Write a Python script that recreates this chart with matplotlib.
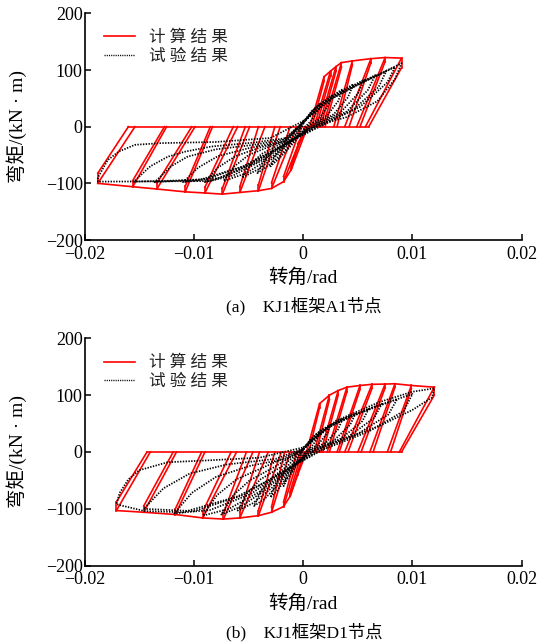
import matplotlib
matplotlib.use("Agg")
import matplotlib.pyplot as plt

plt.rcParams['font.family'] = ['Liberation Serif', 'Noto Sans CJK SC']
plt.rcParams['axes.unicode_minus'] = True

# ---- panel (a): calculated loops (peaks, second-cycle peaks, zero crossings)
a_neg_x = [-0.0188, -0.0156, -0.0134, -0.0108, -0.0090, -0.0074, -0.0058, -0.0041, -0.0029, -0.0018, -0.0011, -0.0005]
a_neg_m1 = [-100, -106, -110, -115, -117, -119, -116, -113, -109, -97, -76, -35]
a_neg_m2 = [-82, -95, -100, -105, -107, -109, -106, -103, -99, -88, -68, -30]
a_neg_z1 = [-0.0154, -0.0125, -0.0099, -0.0083, -0.0060, -0.0049, -0.0035, -0.0021, -0.0006, 0.0002, 0.0004, 0.0005]
a_neg_z2 = [-0.0160, -0.0127, -0.0102, -0.0085, -0.0064, -0.0053, -0.0041, -0.0026, -0.0012, -0.0002, 0.0002, 0.0004]
a_pos_x = [0.0019, 0.0025, 0.0030, 0.0035, 0.0045, 0.0062, 0.0075, 0.0090]
a_pos_m1 = [88, 98, 106, 113, 116, 120, 122, 121]
a_pos_m2 = [80, 90, 98, 105, 109, 113, 115, 104]
a_pos_z1 = [0.0006, 0.0010, 0.0014, 0.0018, 0.0028, 0.0038, 0.0049, 0.0057]
a_pos_z2 = [0.0008, 0.0012, 0.0016, 0.0020, 0.0031, 0.0042, 0.0052, 0.0060]

# ---- panel (a): test loops, one list per cycle
a_test_x = [
    [0.0, 0.0006, 0.0011, 0.0016, 0.0014, 0.0008, 0.0002, -0.0006, -0.0014, -0.0022, -0.0030, -0.0026, -0.0020, -0.0012, -0.0004, 0.0],
    [0.0, 0.0008, 0.0017, 0.0026, 0.0023, 0.0015, 0.0005, -0.0008, -0.0018, -0.0030, -0.0042, -0.0036, -0.0028, -0.0018, -0.0008, 0.0],
    [0.0, 0.0011, 0.0023, 0.0036, 0.0032, 0.0022, 0.0008, -0.0010, -0.0024, -0.0040, -0.0056, -0.0048, -0.0038, -0.0024, -0.0010, 0.0],
    [0.0, 0.0014, 0.0029, 0.0046, 0.0041, 0.0028, 0.0010, -0.0012, -0.0030, -0.0052, -0.0073, -0.0063, -0.0050, -0.0032, -0.0014, 0.0],
    [0.0, 0.0017, 0.0035, 0.0056, 0.0050, 0.0034, 0.0012, -0.0014, -0.0036, -0.0064, -0.0090, -0.0078, -0.0062, -0.0040, -0.0016, 0.0],
    [0.0, 0.0020, 0.0041, 0.0066, 0.0059, 0.0040, 0.0014, -0.0016, -0.0042, -0.0076, -0.0110, -0.0096, -0.0078, -0.0050, -0.0020, 0.0],
    [0.0, 0.0023, 0.0047, 0.0076, 0.0069, 0.0046, 0.0016, -0.0018, -0.0048, -0.0088, -0.0136, -0.0121, -0.0106, -0.0080, -0.0045, -0.0015, 0.0],
    [0.0, 0.0025, 0.0052, 0.0084, 0.0077, 0.0052, 0.0018, -0.0020, -0.0055, -0.0095, -0.0155, -0.0140, -0.0124, -0.0108, -0.0084, -0.0045, -0.0015, 0.0],
    [0.0, 0.0027, 0.0054, 0.0090, 0.0084, 0.0068, 0.0040, 0.0009, -0.0025, -0.0060, -0.0085, -0.0188, -0.0188, -0.0179, -0.0169, -0.0154, -0.0130, -0.0080, -0.0030, 0.0],
]
a_test_m = [
    [5, 22, 33, 42, 30, 12, 0, -22, -40, -56, -70, -52, -38, -27, -14, 5],
    [8, 28, 42, 55, 38, 15, 2, -24, -45, -66, -82, -60, -44, -32, -20, 8],
    [8, 32, 50, 66, 45, 20, 3, -25, -50, -74, -90, -66, -48, -34, -22, 8],
    [8, 36, 56, 75, 52, 22, 3, -27, -55, -82, -96, -70, -50, -36, -24, 8],
    [8, 40, 62, 83, 58, 25, 3, -28, -58, -86, -98, -72, -52, -37, -25, 8],
    [8, 44, 67, 91, 64, 27, 3, -30, -62, -90, -98, -72, -52, -38, -26, 8],
    [8, 47, 72, 98, 70, 30, 3, -32, -66, -92, -98, -70, -53, -40, -32, -22, 8],
    [8, 50, 76, 105, 78, 35, 3, -34, -70, -94, -97, -70, -53, -44, -35, -28, -20, 8],
    [10, 50, 78, 112, 84, 45, 17, 0, -40, -78, -96, -97, -90, -59, -44, -32, -29, -27, -20, 10],
]

# ---- panel (b): calculated loops
b_neg_x = [-0.0171, -0.0146, -0.0117, -0.0092, -0.0073, -0.0058, -0.0041, -0.0029, -0.0018, -0.0012, -0.0005]
b_neg_m1 = [-103, -106, -110, -116, -118, -116, -112, -106, -96, -78, -40]
b_neg_m2 = [-88, -95, -100, -105, -108, -106, -103, -97, -88, -70, -35]
b_neg_z1 = [-0.0140, -0.0116, -0.0090, -0.0061, -0.0046, -0.0032, -0.0020, -0.0012, -0.0003, 0.0001, 0.0003]
b_neg_z2 = [-0.0143, -0.0119, -0.0093, -0.0066, -0.0052, -0.0040, -0.0026, -0.0017, -0.0006, -0.0001, 0.0002]
b_pos_x = [0.0015, 0.0024, 0.0032, 0.0040, 0.0052, 0.0063, 0.0075, 0.0084, 0.0099, 0.0120]
b_pos_m1 = [85, 100, 108, 114, 117, 119, 119.5, 120, 117, 114]
b_pos_m2 = [78, 92, 100, 106, 110, 112, 113, 114, 111, 100]
b_pos_z1 = [0.0003, 0.0010, 0.0016, 0.0022, 0.0031, 0.0038, 0.0050, 0.0061, 0.0077, 0.0088]
b_pos_z2 = [0.0005, 0.0012, 0.0018, 0.0024, 0.0033, 0.0041, 0.0053, 0.0064, 0.0080, 0.0090]

# ---- panel (b): test loops
b_test_x = [
    [0.0, 0.0005, 0.0010, 0.0015, 0.0013, 0.0008, 0.0002, -0.0005, -0.0011, -0.0016, -0.0018, -0.0015, -0.0010, -0.0004, 0.0],
    [0.0, 0.0008, 0.0016, 0.0025, 0.0022, 0.0014, 0.0004, -0.0007, -0.0016, -0.0024, -0.0030, -0.0025, -0.0018, -0.0009, 0.0],
    [0.0, 0.0011, 0.0023, 0.0036, 0.0032, 0.0021, 0.0006, -0.0009, -0.0022, -0.0035, -0.0045, -0.0038, -0.0028, -0.0014, 0.0],
    [0.0, 0.0014, 0.0030, 0.0048, 0.0043, 0.0028, 0.0008, -0.0011, -0.0028, -0.0046, -0.0060, -0.0051, -0.0039, -0.0020, 0.0],
    [0.0, 0.0018, 0.0038, 0.0060, 0.0054, 0.0035, 0.0010, -0.0013, -0.0034, -0.0057, -0.0075, -0.0064, -0.0049, -0.0026, 0.0],
    [0.0, 0.0021, 0.0045, 0.0072, 0.0065, 0.0042, 0.0012, -0.0015, -0.0040, -0.0068, -0.0092, -0.0079, -0.0061, -0.0034, 0.0],
    [0.0, 0.0025, 0.0054, 0.0086, 0.0078, 0.0050, 0.0015, -0.0018, -0.0048, -0.0085, -0.0118, -0.0102, -0.0080, -0.0048, -0.0015, 0.0],
    [0.0, 0.0028, 0.0063, 0.0100, 0.0092, 0.0060, 0.0018, -0.0020, -0.0055, -0.0100, -0.0146, -0.0128, -0.0104, -0.0070, -0.0025, 0.0],
    [0.0, 0.0030, 0.0070, 0.0100, 0.0120, 0.0118, 0.0100, 0.0070, 0.0040, 0.0010, -0.0022, -0.0060, -0.0110, -0.0145, -0.0171, -0.0168, -0.0160, -0.0150, -0.0124, -0.0090, -0.0040, 0.0],
]
b_test_m = [
    [4, 18, 28, 35, 24, 10, 0, -20, -38, -52, -60, -40, -26, -12, 4],
    [5, 24, 38, 48, 33, 14, 1, -24, -48, -68, -80, -55, -36, -20, 5],
    [5, 30, 45, 58, 40, 17, 2, -26, -56, -82, -95, -66, -44, -24, 5],
    [5, 34, 52, 68, 48, 20, 2, -28, -62, -90, -103, -72, -48, -26, 5],
    [5, 38, 58, 76, 54, 24, 2, -30, -66, -96, -110, -76, -50, -26, 5],
    [5, 42, 64, 85, 60, 28, 3, -32, -70, -100, -112, -76, -48, -25, 5],
    [5, 46, 70, 93, 66, 32, 3, -34, -74, -102, -108, -72, -44, -24, -12, 5],
    [6, 50, 78, 102, 72, 36, 4, -36, -76, -104, -100, -64, -38, -22, -12, 6],
    [8, 55, 88, 106, 112, 96, 74, 46, 25, 4, -40, -78, -106, -104, -92, -72, -48, -32, -18, -15, -10, 8],
]

x_ticks = [-0.02, -0.01, 0, 0.01, 0.02]
x_ticklabels = ['\u22120.02', '\u22120.01', '0', '0.01', '0.02']
y_ticks = [-200, -100, 0, 100, 200]
y_ticklabels = ['\u2212200', '\u2212100', '0', '100', '200']

RED = '#ff0000'
red_kw = dict(color=RED, lw=1.2, solid_joinstyle='miter')
dot_kw = dict(color='black', lw=1.25, ls=(0, (0.8, 0.8)))


def draw_calc(ax, nx, nm1, nm2, nz1, nz2, px, pm1, pm2, pz1, pz2):
    ax.plot(nx, nm1, **red_kw)
    ax.plot(px, pm1, **red_kw)
    for x, m1, m2, z1, z2 in zip(nx + px, nm1 + pm1, nm2 + pm2, nz1 + pz1, nz2 + pz2):
        ax.plot([x, x], [m2, m1], **red_kw)
        ax.plot([x, z1], [m1, 0], **red_kw)
        ax.plot([x, z2], [m2, 0], **red_kw)
    zs = nz1 + nz2 + pz1 + pz2
    ax.plot([min(zs), max(zs)], [0, 0], **red_kw)


def style_axes(ax):
    ax.set_xlim(-0.02, 0.02)
    ax.set_ylim(-200, 200)
    ax.spines['top'].set_visible(False)
    ax.spines['right'].set_visible(False)
    ax.spines['left'].set_linewidth(1.2)
    ax.spines['bottom'].set_linewidth(1.2)
    ax.set_xticks(x_ticks)
    ax.set_xticklabels(x_ticklabels)
    ax.set_yticks(y_ticks)
    ax.set_yticklabels(y_ticklabels)
    ax.tick_params(direction='in', length=4, width=1.1, labelsize=13)
    ax.tick_params(axis='y', pad=1.5)
    ax.tick_params(axis='x', pad=4)
    ax.set_xlabel('转角/rad', fontsize=14, labelpad=4)
    ax.set_ylabel('弯矩/(kN · m)', fontsize=14, va='center')
    ax.yaxis.set_label_coords(-0.156, 0.5)
    leg = ax.legend(loc='upper left', bbox_to_anchor=(0.043, 0.925), frameon=False,
                    fontsize=12, handlelength=1.9, handletextpad=0.8,
                    labelspacing=0.15, borderpad=0, borderaxespad=0)
    for t in leg.get_texts():
        t.set_color('#222222')


fig = plt.figure(figsize=(5.41, 6.44), dpi=100)
ax_a = fig.add_axes([0.1566, 0.6273, 0.8077, 0.352])
ax_b = fig.add_axes([0.1566, 0.1216, 0.8077, 0.3531])

panels = [
    (ax_a, (a_neg_x, a_neg_m1, a_neg_m2, a_neg_z1, a_neg_z2, a_pos_x, a_pos_m1, a_pos_m2, a_pos_z1, a_pos_z2), a_test_x, a_test_m),
    (ax_b, (b_neg_x, b_neg_m1, b_neg_m2, b_neg_z1, b_neg_z2, b_pos_x, b_pos_m1, b_pos_m2, b_pos_z1, b_pos_z2), b_test_x, b_test_m),
]
for ax, calc, tx, tm in panels:
    draw_calc(ax, *calc)
    for xs, ms in zip(tx, tm):
        ax.plot(xs, ms, **dot_kw)
    # legend proxies
    ax.plot([], [], color=RED, lw=1.2, label='计 算 结 果')
    ax.plot([], [], color='black', lw=1.0, ls=(0, (0.8, 0.8)), label='试 验 结 果')
    style_axes(ax)

fig.text(304 / 541, 1 - 306 / 644, '(a)    KJ1框架A1节点', ha='center', va='center', fontsize=12.5)
fig.text(304 / 541, 1 - 632 / 644, '(b)    KJ1框架D1节点', ha='center', va='center', fontsize=12.5)

fig.savefig('out.png', dpi=100)
